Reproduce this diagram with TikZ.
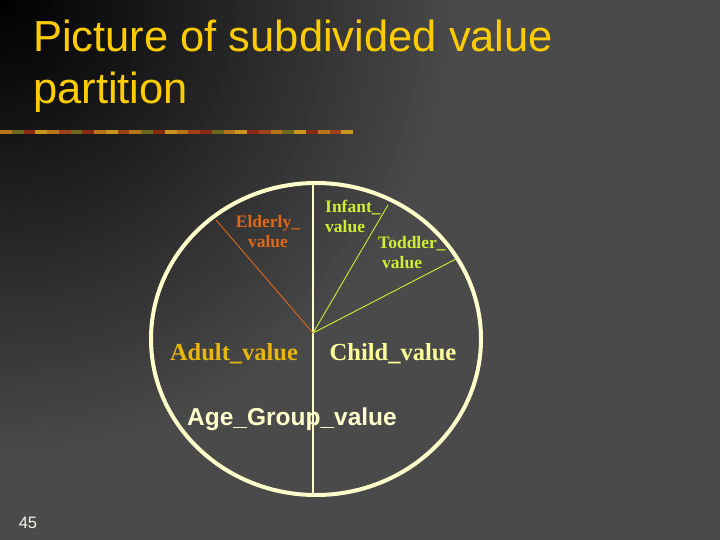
\documentclass[tikz,border=0pt]{standalone}
\usepackage{fontspec}
\setmainfont{Liberation Serif}
\setsansfont{Liberation Sans}
\usetikzlibrary{positioning,shapes.geometric}

\definecolor{bggray}{HTML}{4A4A4A}
\definecolor{titleyellow}{HTML}{FFCC00}
\definecolor{rimcream}{HTML}{FFFFCC}
\definecolor{elderlyorange}{HTML}{E0661A}
\definecolor{younggreen}{HTML}{CCEE33}
\definecolor{adultgold}{HTML}{E8B70A}
\definecolor{childyellow}{HTML}{FFFF99}
\definecolor{pagewhite}{HTML}{F2F2E6}
\definecolor{barA}{HTML}{B8741A}
\definecolor{barB}{HTML}{8B2A12}
\definecolor{barC}{HTML}{6B6A1E}
\definecolor{barD}{HTML}{C8961E}
\definecolor{barE}{HTML}{A0401A}

\begin{document}
\begin{tikzpicture}[x=1pt, y=-1pt,
  title/.style={anchor=base west, inner sep=0, text=titleyellow,
    font=\sffamily\fontsize{43.5}{52}\selectfont},
  rim/.style={draw=rimcream, line width=4pt, ellipse, inner sep=0,
    minimum width=330, minimum height=312},
  divider/.style={draw=rimcream, line width=1.8pt},
  spoke/.style={line width=0.9pt},
  part label/.style={inner sep=0, font=\bfseries\fontsize{17.5}{20}\selectfont},
  big label/.style={inner sep=0, anchor=base, font=\bfseries\fontsize{24.5}{28}\selectfont}]

  \useasboundingbox (0,0) rectangle (720,540);

  % background
  \fill[bggray] (0,0) rectangle (720,540);
  \begin{scope}
    \clip (0,0) rectangle (720,540);
    \shade[inner color=black, outer color=bggray] (0,0) circle (460);
  \end{scope}

  \foreach \l [count=\i] in {Picture of subdivided value, partition}
  \node [title] (title-\i) at (33,52*\i) {\l};

  \foreach \c [count=\i from 0] in {barA,barC,barB,barD,barA,barE,barC,barB,barA,barD,
    barE,barA,barC,barB,barD,barA,barE,barB,barC,barA,
    barD,barB,barE,barA,barC,barD,barB,barA,barE,barD}
  \fill [\c] (\i*11.77,130) rectangle ++(11.77,4);

  % the value partition
  \node [rim] (age-group) at (316,339) {};

  \coordinate (hub) at (313,333);
  \coordinate (rim-top) at (313,184);
  \coordinate (rim-bottom) at (313,496);
  \coordinate (elderly-end) at (216,220);
  \coordinate (infant-end) at (388,205);
  \coordinate (toddler-end) at (456,259);

  \draw [divider] (rim-top) -- (rim-bottom);

  \foreach \e/\c in {elderly-end/elderlyorange, infant-end/younggreen, toddler-end/younggreen}
  \draw [spoke, \c] (hub) -- (\e);

  \node [part label, text=elderlyorange, align=center] (elderly) at (268,232) {Elderly\_\\value};
  \node [part label, text=younggreen, align=left, anchor=west] (infant) at (325,216) {Infant\_\\value};
  \node [part label, text=younggreen, align=left, anchor=west] (toddler) at (378,253) {Toddler\_\\\hspace*{4pt}value};

  \node [big label, text=adultgold] (adult) at (234,360) {Adult\_value};
  \node [big label, text=childyellow] (child) at (393,360) {Child\_value};

  \node [big label, text=rimcream, font=\sffamily\bfseries\fontsize{24.5}{28}\selectfont]
    (age-label) at (292,425) {Age\_Group\_value};

  \node [inner sep=0, anchor=base, text=pagewhite, font=\sffamily\fontsize{16.5}{20}\selectfont]
    (page) at (28,528) {45};

\end{tikzpicture}
\end{document}
